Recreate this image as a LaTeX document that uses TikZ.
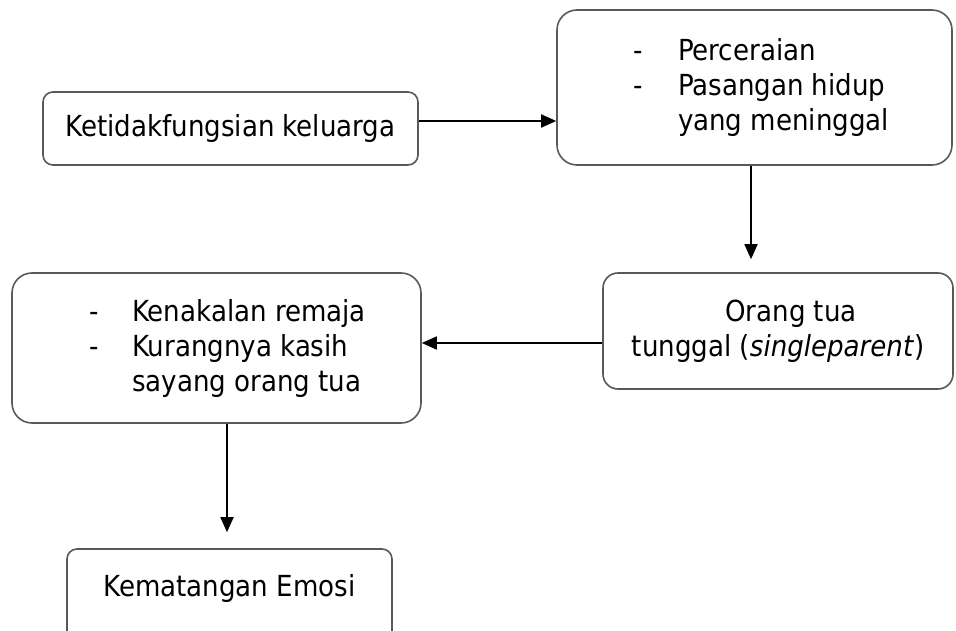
\documentclass[tikz,border=0pt]{standalone}
\usepackage{fontspec}
\setmainfont{DejaVu Sans Condensed}
\usetikzlibrary{arrows.meta}
\newcommand{\tanda}[2]{\hspace*{#1}\makebox[#2][l]}
\begin{document}
\begin{tikzpicture}[x=1pt,y=-1pt,line join=round,font=\fontsize{29}{35}\selectfont,
	kotak/.style={draw=black!65,line width=1.6pt,rounded corners=#1,inner sep=0pt},
	kotak/.default=12pt,
	panah/.style={-{Triangle[length=15pt,width=13pt]},line width=1.8pt}]
	\path[use as bounding box,clip] (0,0) rectangle (956,631);
	\node[kotak=10pt,minimum width=375pt,minimum height=73pt] (klg) at (230.5,128.5) {Ketidakfungsian keluarga};
	\node[kotak=20pt,minimum width=395pt,minimum height=155pt,align=left] (sebab) at (754.5,87.5)
		{\tanda{13pt}{45pt}{-}Perceraian\\\tanda{13pt}{45pt}{-}Pasangan hidup\\\tanda{13pt}{45pt}{}yang meninggal};
	\node[kotak=15pt,minimum width=350pt,minimum height=116pt,align=center] (tunggal) at (778,331)
		{\hspace*{26pt}Orang tua\\tunggal (\textit{singleparent})};
	\node[kotak=20pt,minimum width=409pt,minimum height=150pt,align=left] (akibat) at (216.5,348)
		{\tanda{22pt}{43pt}{-}Kenakalan remaja\\\tanda{22pt}{43pt}{-}Kurangnya kasih\\\tanda{22pt}{43pt}{}sayang orang tua};
	\node[kotak=10pt,minimum width=325pt,minimum height=100pt] (emosi) at (229.5,599) {\raisebox{28pt}{Kematangan Emosi}};
	\draw[panah] ([yshift=7.5pt]klg.east) -- ([yshift=7.5pt]klg.east -| sebab.west);
	\draw[panah,shorten >=13pt] ([xshift=-3.5pt]sebab.south) -- ([xshift=-3.5pt]sebab.south |- tunggal.north);
	\draw[panah] ([yshift=-12pt]tunggal.west) -- ([yshift=-12pt]tunggal.west -| akibat.east);
	\draw[panah,shorten >=16pt] ([xshift=-2.5pt]emosi.north |- akibat.south) -- ([xshift=-2.5pt]emosi.north);
\end{tikzpicture}
\end{document}
